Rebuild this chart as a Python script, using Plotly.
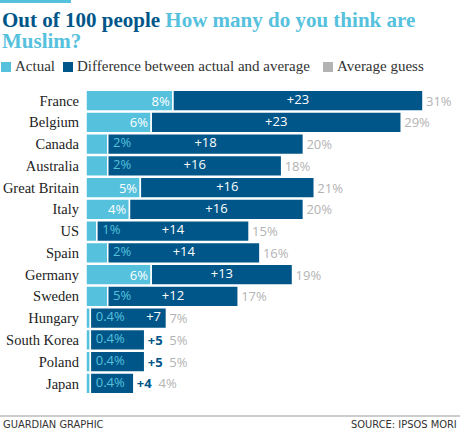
import plotly.graph_objects as go

countries = ["France", "Belgium", "Canada", "Australia", "Great Britain", "Italy", "US",
             "Spain", "Germany", "Sweden", "Hungary", "South Korea", "Poland", "Japan"]
actual = [8, 6, 2, 2, 5, 4, 1, 2, 6, 2, 0.4, 0.4, 0.4, 0.4]
actual_labels = ["8%", "6%", "2%", "2%", "5%", "4%", "1%", "2%", "6%", "5%",
                 "0.4%", "0.4%", "0.4%", "0.4%"]
difference = [23, 23, 18, 16, 16, 16, 14, 14, 13, 12, 7, 5, 5, 4]
guess_labels = ["31%", "29%", "20%", "18%", "21%", "20%", "15%", "16%", "19%", "17%",
                "7%", "5%", "5%", "4%"]

LIGHT = "#56c1dd"
DARK = "#005689"
GREY = "#b3b3b3"
SERIF = "Liberation Serif, serif"
SANS = "Open Sans, Liberation Sans, sans-serif"
NARROW = "DejaVu Sans Condensed, Roboto, sans-serif"

W, H = 460, 430
ML, MR, MT, MB = 86, 4, 80, 26
PW, PH = W - ML - MR, H - MT - MB


def px_x(px):
    return (px - ML) / PW


def px_y(px):
    return (H - MB - px) / PH


# label on the light bar only if it fits, otherwise in light blue on the dark bar
in_actual = [lab if a >= 4 else "" for a, lab in zip(actual, actual_labels)]
small_y = [c for c, a in zip(countries, actual) if a < 4]
small_x = [a for a in actual if a < 4]
small_t = [lab for a, lab in zip(actual, actual_labels) if a < 4]

diff_x, diff_y, diff_t, diff_pos = [], [], [], []
total_text = []
for c, a, d, g in zip(countries, actual, difference, guess_labels):
    if d >= 10:
        diff_x.append(a + d / 2)
        diff_pos.append("middle center")
    elif d > 5:
        diff_x.append(a + d)
        diff_pos.append("middle left")
    else:
        total_text.append("<span style='color:%s'><b>+%d</b></span>  %s" % (DARK, d, g))
        continue
    diff_y.append(c)
    diff_t.append("+%d" % d)
    total_text.append(g)

# invisible markers just to push the side-anchored labels off the bar edges
ghost = dict(size=7, color="rgba(0,0,0,0)")

fig = go.Figure()
fig.add_trace(go.Bar(
    y=countries, x=actual, orientation="h", name="Actual",
    marker=dict(color=LIGHT, line=dict(color="white", width=1.5)),
    text=in_actual, textposition="inside", insidetextanchor="end",
    textfont=dict(family=SANS, size=13, color="white"),
    constraintext="none", hoverinfo="skip"))
fig.add_trace(go.Bar(
    y=countries, x=difference, base=actual, orientation="h",
    name="Difference between actual and average",
    marker=dict(color=DARK, line=dict(color="white", width=1.5)),
    text=total_text, textposition="outside",
    outsidetextfont=dict(family=SANS, size=13, color=GREY),
    constraintext="none", cliponaxis=False, hoverinfo="skip"))
fig.add_trace(go.Scatter(
    y=small_y, x=small_x, mode="markers+text", marker=ghost, text=small_t,
    textposition="middle right",
    textfont=dict(family=SANS, size=13, color=LIGHT), hoverinfo="skip"))
fig.add_trace(go.Scatter(
    y=diff_y, x=diff_x, mode="markers+text", marker=ghost, text=diff_t,
    textposition=diff_pos,
    textfont=dict(family=SANS, size=13, color="white"), hoverinfo="skip"))

annotations = [
    dict(x=px_x(0), y=px_y(20), xref="paper", yref="paper", xanchor="left", yanchor="middle",
         showarrow=False, font=dict(family=SERIF, size=21, color=LIGHT),
         text="<b><span style='color:%s'>Out of 100 people</span> How many do you think are</b>" % DARK),
    dict(x=px_x(0), y=px_y(41), xref="paper", yref="paper", xanchor="left", yanchor="middle",
         showarrow=False, font=dict(family=SERIF, size=21, color=LIGHT), text="<b>Muslim?</b>"),
    dict(x=px_x(1), y=px_y(424), xref="paper", yref="paper", xanchor="left", yanchor="middle",
         showarrow=False, font=dict(family=NARROW, size=11, color="#333"),
         text="GUARDIAN GRAPHIC"),
    dict(x=px_x(459), y=px_y(424), xref="paper", yref="paper", xanchor="right", yanchor="middle",
         showarrow=False, font=dict(family=NARROW, size=11, color="#333"),
         text="SOURCE: IPSOS MORI"),
]
shapes = [
    dict(type="rect", xref="paper", yref="paper", x0=px_x(0), x1=px_x(71), y0=px_y(0), y1=px_y(3),
         fillcolor=LIGHT, line=dict(width=0)),
    dict(type="line", xref="paper", yref="paper", x0=px_x(0), x1=px_x(460), y0=px_y(416), y1=px_y(416),
         line=dict(color="#999", width=1)),
]

legend_items = [("Actual", LIGHT, 1), ("Difference between actual and average", DARK, 63),
                ("Average guess", GREY, 323)]
for label, col, left in legend_items:
    shapes.append(dict(type="rect", xref="paper", yref="paper", x0=px_x(left), x1=px_x(left + 10),
                       y0=px_y(72), y1=px_y(62), fillcolor=col, line=dict(width=0)))
    annotations.append(dict(x=px_x(left + 12), y=px_y(66), xref="paper", yref="paper",
                            xanchor="left", yanchor="middle", showarrow=False,
                            font=dict(family=SERIF, size=15, color="#333"), text=label))

fig.update_layout(
    width=W, height=H, margin=dict(l=ML, r=MR, t=MT, b=MB),
    barmode="overlay", bargap=0.04, showlegend=False,
    plot_bgcolor="white", paper_bgcolor="white",
    annotations=annotations, shapes=shapes,
    xaxis=dict(range=[0, PW / 10.87], visible=False, fixedrange=True),
    yaxis=dict(categoryorder="array", categoryarray=countries, autorange="reversed",
               showgrid=False, showline=False, ticks="", ticklabelstandoff=6, automargin=False,
               tickfont=dict(family=SERIF, size=14.5, color="#222"), fixedrange=True),
)

# the page's default body margin would push the chart 8px off the corner
fig.write_html("out.html", config={"displayModeBar": False},
               post_script="document.body.style.margin='0';")
